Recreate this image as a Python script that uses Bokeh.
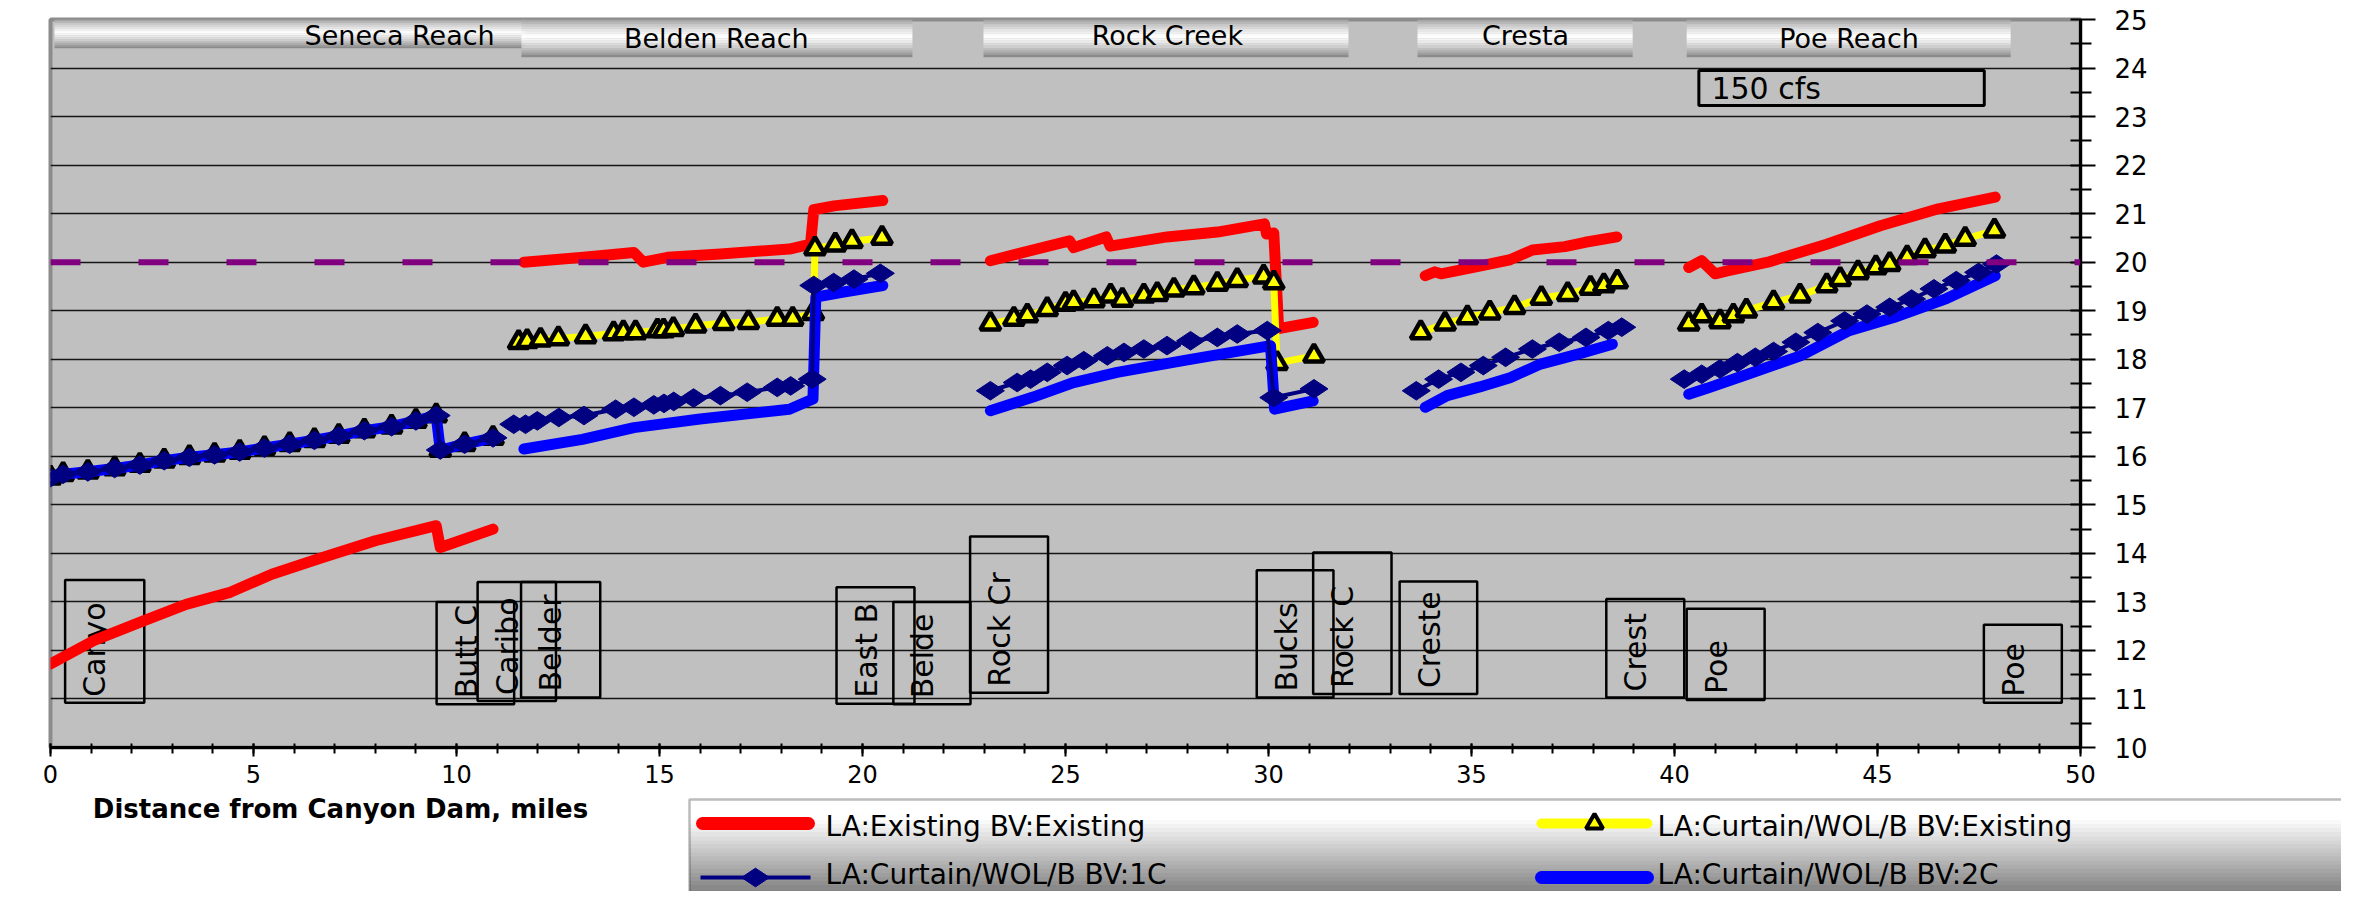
import math
import numpy as np
from bokeh.plotting import figure
from bokeh.models import Range1d, FixedTicker, Span, Label, BoxAnnotation, Plot
from bokeh.layouts import column
from bokeh.embed import file_html
from bokeh.resources import INLINE
from bokeh.core.properties import value

FONT = "DejaVu Sans"

# ------------------------------------------------------------------ data
series_names = ["LA:Existing BV:Existing", "LA:Curtain/WOL/B BV:Existing",
                "LA:Curtain/WOL/B BV:1C", "LA:Curtain/WOL/B BV:2C"]

reach_names = ["Seneca Reach", "Belden Reach", "Rock Creek", "Cresta", "Poe Reach"]
reach_start_mi = [0.1, 11.6, 22.98, 33.67, 40.3]
reach_end_mi = [11.7, 21.23, 31.97, 38.97, 48.28]
reach_top_temp = [25.0, 25.0, 25.0, 25.0, 25.0]
reach_bottom_temp = [24.41, 24.22, 24.22, 24.22, 24.22]
reach_label_mi = [8.6, 16.4, 27.51, 36.33, 44.3]
reach_label_temp = [24.68, 24.6, 24.68, 24.68, 24.6]

flow_label = "150 cfs"
flow_box_mi = [40.6, 47.63]
flow_box_temp = [23.95, 23.23]
flow_label_mi = 40.91
flow_label_temp = 23.58

station_names = ["Canyo", "Butt C", "Caribo", "Belder", "East B", "Belde", "Rock Cr",
                 "Bucks", "Rock C", "Creste", "Crest", "Poe", "Poe"]
station_left_mi = [0.36, 9.51, 10.52, 11.59, 19.36, 20.76, 22.65, 29.71, 31.1, 33.23, 38.32, 40.3, 47.62]
station_right_mi = [2.31, 11.42, 12.45, 13.54, 21.28, 22.66, 24.57, 31.6, 33.03, 35.14, 40.24, 42.22, 49.54]
station_top_temp = [13.45, 13.0, 13.41, 13.41, 13.3, 13.0, 14.35, 13.65, 14.02, 13.42, 13.06, 12.86, 12.53]
station_bottom_temp = [10.92, 10.89, 10.96, 11.03, 10.9, 10.89, 11.13, 11.03, 11.1, 11.1, 11.03, 10.98, 10.92]

threshold_temp = 20.0

# LA:Existing BV:Existing  (one list per reach)
existing_mi = [
    [0, 1.06, 2.29, 3.34, 4.4, 5.45, 6.68, 8.0, 9.5, 9.6, 10.9],
    [11.66, 13.13, 14.37, 14.6, 15.2, 16.5, 18.2, 18.72, 18.8, 19.3, 20.5],
    [23.15, 25.1, 25.2, 26.0, 26.1, 27.5, 28.74, 29.9, 29.95, 30.13, 30.25, 31.1],
    [33.86, 34.1, 34.25, 35.2, 35.95, 36.5, 37.3, 37.8, 38.58],
    [40.35, 40.67, 41.0, 41.3, 42.3, 43.75, 45.07, 46.5, 47.9],
]
existing_temp = [
    [11.72, 12.2, 12.61, 12.95, 13.19, 13.57, 13.91, 14.26, 14.57, 14.12, 14.5],
    [20.0, 20.1, 20.2, 20.0, 20.1, 20.17, 20.27, 20.37, 21.08, 21.16, 21.27],
    [20.03, 20.44, 20.3, 20.52, 20.33, 20.52, 20.62, 20.79, 20.58, 20.6, 18.63, 18.76],
    [19.72, 19.8, 19.76, 19.92, 20.05, 20.25, 20.32, 20.41, 20.52],
    [19.89, 20.03, 19.76, 19.82, 20.0, 20.37, 20.75, 21.1, 21.34],
]

# Seneca reach: the three curtain options coincide
seneca_curtain_mi = [0, 0.31, 0.92, 1.58, 2.2, 2.8, 3.42, 4.04, 4.66, 5.27, 5.89, 6.5,
                     7.1, 7.73, 8.4, 9.0, 9.5, 9.6, 10.2, 10.9]
seneca_curtain_temp = [15.56, 15.63, 15.68, 15.75, 15.82, 15.91, 15.98, 16.03, 16.09, 16.17,
                       16.25, 16.33, 16.42, 16.53, 16.61, 16.73, 16.84, 16.13, 16.25, 16.38]

# LA:Curtain/WOL/B BV:Existing
curtain_existing_mi = [
    seneca_curtain_mi,
    [11.53, 11.74, 12.07, 12.51, 13.18, 13.87, 14.11, 14.41, 14.95, 15.1, 15.34, 15.89,
     16.58, 17.19, 17.9, 18.28, 18.79, 18.83, 19.33, 19.74, 20.48],
    [23.15, 23.73, 24.06, 24.55, 25.0, 25.2, 25.7, 26.11, 26.4, 26.93, 27.26, 27.67,
     28.16, 28.74, 29.23, 29.88, 30.13, 30.21, 31.12],
    [33.75, 34.35, 34.9, 35.45, 36.06, 36.72, 37.37, 37.93, 38.26, 38.59],
    [40.35, 40.67, 41.12, 41.45, 41.77, 42.44, 43.09, 43.75, 44.08, 44.52, 44.96, 45.3,
     45.73, 46.17, 46.67, 47.16, 47.88],
]
curtain_existing_temp = [
    seneca_curtain_temp,
    [18.35, 18.37, 18.40, 18.43, 18.47, 18.53, 18.55, 18.55, 18.59, 18.59, 18.62, 18.69,
     18.74, 18.76, 18.83, 18.83, 18.95, 20.28, 20.36, 20.43, 20.50],
    [18.73, 18.83, 18.90, 19.03, 19.14, 19.17, 19.21, 19.31, 19.22, 19.31, 19.34, 19.43,
     19.48, 19.55, 19.63, 19.70, 19.58, 17.92, 18.07],
    [18.55, 18.73, 18.86, 18.96, 19.07, 19.26, 19.34, 19.47, 19.52, 19.60],
    [18.73, 18.90, 18.78, 18.90, 19.00, 19.17, 19.31, 19.52, 19.65, 19.79, 19.89, 19.96,
     20.10, 20.24, 20.34, 20.48, 20.65],
]

# LA:Curtain/WOL/B BV:1C
curtain_1c_mi = [
    seneca_curtain_mi,
    [11.41, 11.7, 11.99, 12.52, 13.14, 13.92, 14.37, 14.86, 15.11, 15.35, 15.84, 16.5,
     17.16, 17.9, 18.23, 18.76, 18.8, 19.29, 19.79, 20.44],
    [23.15, 23.81, 24.14, 24.55, 25.04, 25.45, 26.03, 26.44, 26.93, 27.5, 28.08, 28.74,
     29.23, 29.97, 30.13, 31.12],
    [33.64, 34.19, 34.74, 35.29, 35.84, 36.5, 37.16, 37.82, 38.37, 38.7],
    [40.24, 40.67, 41.12, 41.55, 41.99, 42.44, 42.99, 43.53, 44.19, 44.74, 45.3, 45.84,
     46.39, 46.94, 47.49, 47.93],
]
curtain_1c_temp = [
    seneca_curtain_temp,
    [16.66, 16.66, 16.73, 16.80, 16.84, 16.97, 17.01, 17.06, 17.09, 17.13, 17.20, 17.25,
     17.32, 17.42, 17.45, 17.59, 19.52, 19.58, 19.65, 19.77],
    [17.35, 17.52, 17.59, 17.73, 17.87, 17.97, 18.07, 18.14, 18.21, 18.28, 18.38, 18.45,
     18.52, 18.59, 17.21, 17.39],
    [17.35, 17.59, 17.73, 17.87, 18.04, 18.21, 18.35, 18.45, 18.59, 18.66],
    [17.59, 17.69, 17.80, 17.93, 18.04, 18.16, 18.35, 18.55, 18.79, 18.93, 19.07, 19.24,
     19.45, 19.62, 19.79, 19.96],
]

# LA:Curtain/WOL/B BV:2C
curtain_2c_mi = [
    seneca_curtain_mi,
    [11.66, 13.1, 14.37, 16.0, 18.2, 18.78, 18.85, 19.5, 20.5],
    [23.15, 24.2, 25.2, 26.27, 27.9, 30.05, 30.15, 31.1],
    [33.86, 34.4, 35.2, 35.95, 36.7, 37.6, 38.47],
    [40.35, 40.8, 41.8, 43.1, 44.3, 45.4, 46.7, 47.9],
]
curtain_2c_temp = [
    seneca_curtain_temp,
    [16.15, 16.35, 16.59, 16.77, 16.97, 17.18, 19.28, 19.38, 19.52],
    [16.94, 17.22, 17.52, 17.73, 17.97, 18.28, 16.97, 17.14],
    [17.01, 17.25, 17.43, 17.62, 17.9, 18.1, 18.31],
    [17.28, 17.4, 17.69, 18.07, 18.59, 18.86, 19.25, 19.72],
]

x_major_ticks = list(range(0, 51, 5))
x_minor_ticks = list(range(0, 51))
y_major_ticks = list(range(10, 26))
y_minor_ticks = [t + 0.5 for t in range(10, 25)]

x_title = "Distance from Canyon Dam, miles"
y_title = "Daily Average Water T"


def join(segments):
    out = []
    for i, seg in enumerate(segments):
        if i:
            out.append(np.nan)
        out.extend(seg)
    return np.array(out, dtype=float)


def grey(v):
    v = int(max(0, min(255, round(v))))
    return "#%02x%02x%02x" % (v, v, v)


HAS_FRAME_ALIGN = "frame_align" in Plot.properties()
extra = {"frame_align": False} if HAS_FRAME_ALIGN else {}

# ------------------------------------------------------------------ main plot
W = 2341
FRAME_L, FRAME_R, FRAME_T, FRAME_H = 50, 2080, 19, 728
H1 = 792
p = figure(width=W, height=H1,
           x_range=Range1d(0, 50), y_range=Range1d(10, 25),
           y_axis_location="right",
           output_backend="svg", toolbar_location=None,
           min_border_left=FRAME_L, min_border_right=W - FRAME_R,
           min_border_top=FRAME_T, min_border_bottom=H1 - FRAME_T - FRAME_H,
           background_fill_color="#c0c0c0", border_fill_color="white",
           outline_line_color="#8c8c8c", outline_line_width=4, **extra)

p.xgrid.visible = False
p.ygrid.grid_line_color = "#151515"
p.ygrid.grid_line_width = 1.5

p.xaxis.ticker = FixedTicker(ticks=x_major_ticks, minor_ticks=x_minor_ticks)
p.yaxis.ticker = FixedTicker(ticks=y_major_ticks, minor_ticks=y_minor_ticks)

for ax in (p.xaxis, p.yaxis):
    ax.axis_line_color = "black"
    ax.major_tick_line_color = "black"
    ax.minor_tick_line_color = "black"
    ax.major_tick_line_width = 2
    ax.minor_tick_line_width = 2
    ax.major_label_text_font = FONT
    ax.major_label_text_color = "black"

p.xaxis.axis_line_width = 3
p.xaxis.major_tick_in = 4
p.xaxis.major_tick_out = 9
p.xaxis.minor_tick_in = 4
p.xaxis.minor_tick_out = 6
p.xaxis.major_label_standoff = 8
p.xaxis.major_label_text_font_size = "24px"

p.yaxis.axis_line_width = 3
p.yaxis.major_tick_in = 10
p.yaxis.major_tick_out = 15
p.yaxis.minor_tick_in = 10
p.yaxis.minor_tick_out = 11
p.yaxis.major_label_standoff = 19
p.yaxis.major_label_text_font_size = "26px"

# station boxes
p.quad(left=station_left_mi, right=station_right_mi, top=station_top_temp,
       bottom=station_bottom_temp, fill_alpha=0, line_color="black", line_width=2.5)
p.text(x=station_left_mi, y=station_bottom_temp, text=station_names,
       angle=math.pi / 2, x_offset=12, y_offset=-6,
       text_font=value(FONT), text_font_size="30px", text_color="black",
       text_align="left", text_baseline="top")

# series
p.line(join(existing_mi), join(existing_temp), line_color="#ff0000", line_width=11,
       line_cap="round", line_join="round")

p.line(join(curtain_existing_mi), join(curtain_existing_temp), line_color="#ffff00",
       line_width=7, line_join="round")
p.scatter(join(curtain_existing_mi), join(curtain_existing_temp), marker="triangle",
          size=20, fill_color="#ffff00", line_color="black", line_width=4.5)

p.line(join(curtain_2c_mi), join(curtain_2c_temp), line_color="#0000ff", line_width=11,
       line_cap="round", line_join="round")

p.line(join(curtain_1c_mi), join(curtain_1c_temp), line_color="#000080", line_width=4)
p.scatter(join(curtain_1c_mi), join(curtain_1c_temp), marker="diamond", angle=math.pi / 2,
          size=28, fill_color="#000080", line_color="#000080", line_width=1)

# reach banners (metallic gradient)
n_strips = 16
for i, name in enumerate(reach_names):
    top = reach_top_temp[i]
    bot = reach_bottom_temp[i]
    dh = (top - bot) / n_strips
    tops, bots, cols = [], [], []
    for k in range(n_strips):
        t = (k + 0.5) / n_strips
        v = 255 - 125 * min(1.0, abs(t - 0.45) / 0.55) ** 1.3
        tops.append(top - k * dh)
        bots.append(top - (k + 1) * dh)
        cols.append(grey(v))
    p.quad(left=reach_start_mi[i], right=reach_end_mi[i], top=tops, bottom=bots,
           fill_color=cols, line_color=None)
    p.text(x=[reach_label_mi[i]], y=[reach_label_temp[i]], text=[name],
           text_font=value(FONT), text_font_size="27px", text_color="black",
           text_align="center", text_baseline="middle")

# flow box
p.quad(left=[flow_box_mi[0]], right=[flow_box_mi[1]], top=[flow_box_temp[0]],
       bottom=[flow_box_temp[1]], fill_alpha=0, line_color="black", line_width=3)
p.text(x=[flow_label_mi], y=[flow_label_temp], text=[flow_label],
       text_font=value(FONT), text_font_size="30px", text_color="black",
       text_align="left", text_baseline="middle")

# threshold
p.add_layout(Span(location=threshold_temp, dimension="width", line_color="#800080",
                  line_width=6, line_dash="30 58"))

# right axis title (reads bottom to top); screen units relative to the frame
p.add_layout(Label(x=2183 - FRAME_L, y=(FRAME_T + FRAME_H) - 379,
                   x_units="screen", y_units="screen", text=y_title,
                   angle=math.pi / 2, text_align="center", text_baseline="middle",
                   text_font=FONT, text_font_size="24px", text_font_style="bold",
                   text_color="black"))

# ------------------------------------------------------------------ legend strip
# ranges are page pixels; if frames stay aligned the legend frame equals the plot frame
H_TOTAL = 891
H2 = H_TOTAL - H1
F2_L, F2_R = (0, W) if HAS_FRAME_ALIGN else (FRAME_L, FRAME_R)
q = figure(width=W, height=H2, x_range=Range1d(F2_L, F2_R),
           y_range=Range1d(H_TOTAL, H1),
           output_backend="svg", toolbar_location=None, min_border=0,
           x_axis_type=None, y_axis_type=None,
           background_fill_color="white", border_fill_color="white",
           outline_line_color=None, **extra)
q.grid.visible = False


def sx(px):   # page x -> screen units of the legend frame
    return px - F2_L


def sy(py):   # page y -> screen units of the legend frame (from its bottom)
    return H_TOTAL - py


leg_left, leg_right, leg_top, leg_bottom = 689, 2380, 799, 905
n_leg = 26
for k in range(n_leg):
    y0 = leg_top + k * (leg_bottom - leg_top) / n_leg
    y1 = leg_top + (k + 1) * (leg_bottom - leg_top) / n_leg
    t = (k + 0.5) / n_leg
    v = 255 if t < 0.18 else 255 - 150 * (t - 0.18) / 0.82
    q.add_layout(BoxAnnotation(left=sx(leg_left), right=sx(leg_right),
                               top=sy(y0), bottom=sy(y1 + 0.6),
                               left_units="screen", right_units="screen",
                               top_units="screen", bottom_units="screen",
                               fill_color=grey(v), fill_alpha=1.0, line_alpha=0,
                               level="underlay"))
q.add_layout(BoxAnnotation(left=sx(leg_left), right=sx(leg_right),
                           top=sy(leg_top), bottom=sy(leg_bottom),
                           left_units="screen", right_units="screen",
                           top_units="screen", bottom_units="screen",
                           fill_alpha=0, line_color="#202020", line_width=2.5,
                           level="underlay"))

col_x = [696, 1535]
glyph_w = 118
row_y = [823, 877]
label_x = [825, 1657]

# entry 1: existing
q.line([col_x[0] + 6, col_x[0] + glyph_w - 6], [row_y[0], row_y[0]], line_color="#ff0000",
       line_width=13, line_cap="round")
# entry 2: curtain existing
q.line([col_x[1] + 6, col_x[1] + glyph_w - 6], [row_y[0], row_y[0]], line_color="#ffff00",
       line_width=10, line_cap="round")
q.scatter([col_x[1] + glyph_w / 2], [row_y[0]], marker="triangle", size=17,
          fill_color="#ffff00", line_color="black", line_width=4)
# entry 3: 1C
q.line([col_x[0] + 4, col_x[0] + glyph_w - 4], [row_y[1], row_y[1]], line_color="#000080",
       line_width=4)
q.scatter([col_x[0] + glyph_w / 2], [row_y[1]], marker="diamond", angle=math.pi / 2,
          size=28, fill_color="#000080", line_color="#000080")
# entry 4: 2C
q.line([col_x[1] + 6, col_x[1] + glyph_w - 6], [row_y[1], row_y[1]], line_color="#0000ff",
       line_width=13, line_cap="round")

label_pos = [(label_x[0], row_y[0] + 3), (label_x[1], row_y[0] + 3),
             (label_x[0], row_y[1] - 3), (label_x[1], row_y[1] - 3)]
for (lx, ly), name in zip(label_pos, series_names):
    q.add_layout(Label(x=sx(lx), y=sy(ly), x_units="screen", y_units="screen",
                       text=name, text_font=FONT, text_font_size="28px",
                       text_color="black", text_align="left", text_baseline="middle"))

q.add_layout(Label(x=sx(340), y=sy(808), x_units="screen", y_units="screen",
                   text=x_title, text_font=FONT, text_font_size="26px",
                   text_font_style="bold", text_color="black", text_align="center",
                   text_baseline="middle"))

layout = column(p, q, spacing=0)
open("out.html", "w").write(file_html(layout, INLINE))
